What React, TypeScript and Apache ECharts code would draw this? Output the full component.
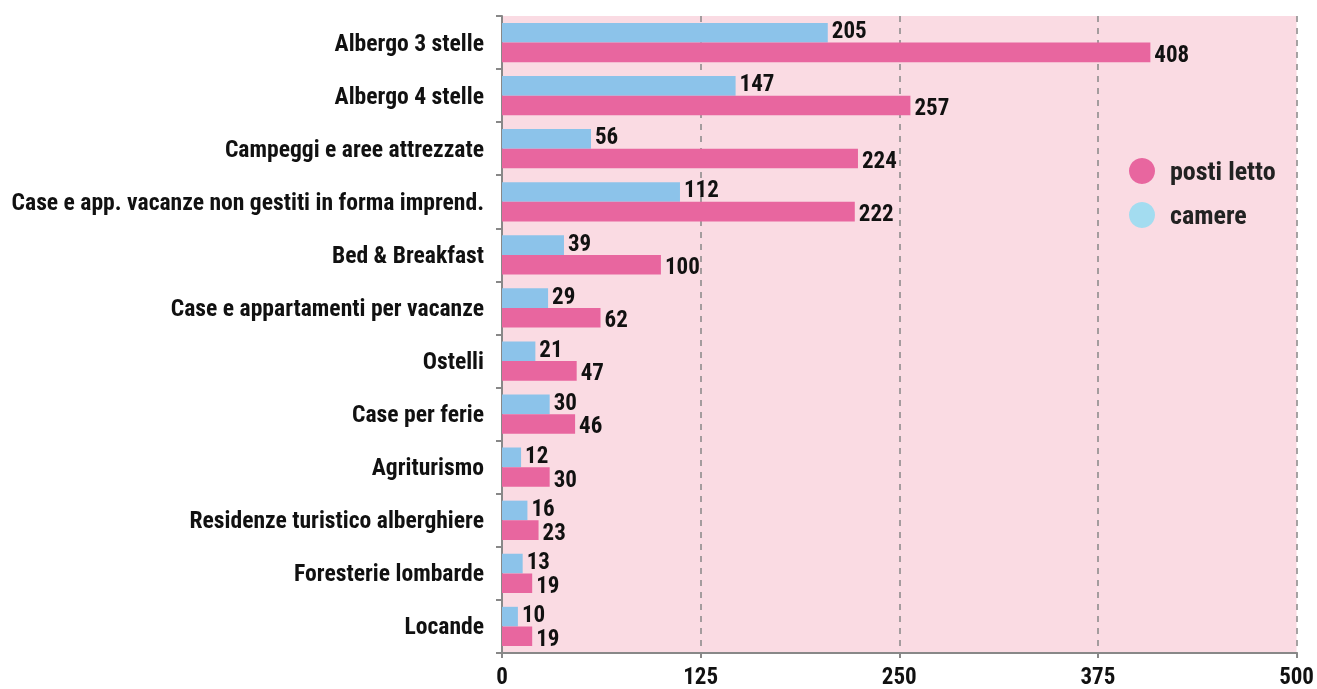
import React, { useEffect, useRef } from "react";
import * as echarts from "echarts";

const categories = [
  "Albergo 3 stelle",
  "Albergo 4 stelle",
  "Campeggi e aree attrezzate",
  "Case e app. vacanze non gestiti in forma imprend.",
  "Bed & Breakfast",
  "Case e appartamenti per vacanze",
  "Ostelli",
  "Case per ferie",
  "Agriturismo",
  "Residenze turistico alberghiere",
  "Foresterie lombarde",
  "Locande",
];
const camere = [205, 147, 56, 112, 39, 29, 21, 30, 12, 16, 13, 10];
const postiLetto = [408, 257, 224, 222, 100, 62, 47, 46, 30, 23, 19, 19];
const xTicks = [0, 125, 250, 375, 500];

const FONT = "'Liberation Sans Narrow', 'Roboto Condensed', 'DejaVu Sans Condensed', Roboto, sans-serif";

export default function App() {
  const ref = useRef<HTMLDivElement>(null);
  useEffect(() => {
    if (!ref.current) return;
    const chart = echarts.init(ref.current, undefined, { renderer: "svg" });
    const labelStyle = {
      show: true,
      position: "right",
      distance: 4,
      color: "#111",
      fontWeight: "bold",
      fontSize: 23,
      lineHeight: 18,
      fontFamily: FONT,
    };
    chart.setOption({
      animation: false,
      textStyle: { fontFamily: FONT },
      grid: { left: 502, right: 17, top: 16, bottom: 36, containLabel: false, show: true, backgroundColor: "#fadbe3", borderWidth: 0 },
      legend: {
        orient: "vertical",
        left: 1124,
        top: 153,
        icon: "circle",
        itemWidth: 26,
        itemHeight: 26,
        itemGap: 18,
        textStyle: { fontSize: 26, fontWeight: "bold", color: "#222", fontFamily: FONT, padding: [0, 0, 0, 10] },
        data: [
          { name: "posti letto", itemStyle: { color: "#e8669f" } },
          { name: "camere", itemStyle: { color: "#a3dcf0" } },
        ],
      },
      xAxis: {
        type: "value",
        min: xTicks[0],
        max: xTicks[xTicks.length - 1],
        interval: 125,
        axisLine: { show: true, lineStyle: { color: "#888", width: 2 } },
        axisTick: { show: true, length: 5, lineStyle: { color: "#888", width: 2 } },
        axisLabel: { color: "#111", fontWeight: "bold", fontSize: 23, fontFamily: FONT, margin: 12 },
        splitLine: { show: true, lineStyle: { color: "#888", type: [6, 6], width: 1.5 } },
      },
      yAxis: {
        type: "category",
        data: categories,
        inverse: true,
        axisLine: { show: true, lineStyle: { color: "#888", width: 2 } },
        axisTick: { show: true, length: 6, lineStyle: { color: "#888", width: 2 } },
        axisLabel: { color: "#111", fontWeight: "bold", fontSize: 23.6, fontFamily: FONT, margin: 18 },
        splitLine: { show: false },
      },
      series: [
        {
          name: "camere",
          type: "bar",
          data: camere,
          barGap: "0%",
          barCategoryGap: "26%",
          itemStyle: { color: "#8cc3ea" },
          label: { ...labelStyle, offset: [0, -2] },
        },
        {
          name: "posti letto",
          type: "bar",
          data: postiLetto,
          barGap: "0%",
          barCategoryGap: "26%",
          itemStyle: { color: "#e8669f" },
          label: { ...labelStyle, offset: [0, 2] },
        },
      ],
    });
    return () => chart.dispose();
  }, []);
  return <div ref={ref} style={{ position: "fixed", left: 0, top: 0, width: 1317, height: 689 }} />;
}
